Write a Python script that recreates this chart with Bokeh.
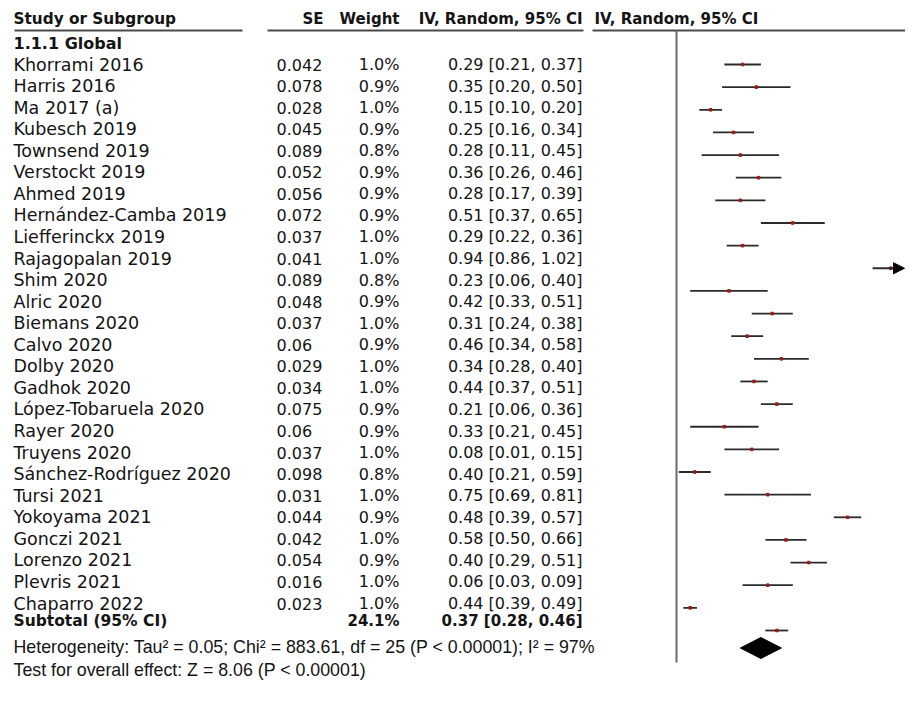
from bokeh.plotting import figure
from bokeh.models import Range1d, ColumnDataSource, Arrow, NormalHead
from bokeh.core.properties import value
from bokeh.embed import file_html
from bokeh.resources import INLINE

# ---------------- data ----------------
studies = ["Khorrami 2016", "Harris 2016", "Ma 2017 (a)", "Kubesch 2019", "Townsend 2019",
           "Verstockt 2019", "Ahmed 2019", "Hernández-Camba 2019", "Liefferinckx 2019",
           "Rajagopalan 2019", "Shim 2020", "Alric 2020", "Biemans 2020", "Calvo 2020",
           "Dolby 2020", "Gadhok 2020", "López-Tobaruela 2020", "Rayer 2020", "Truyens 2020",
           "Sánchez-Rodríguez 2020", "Tursi 2021", "Yokoyama 2021", "Gonczi 2021",
           "Lorenzo 2021", "Plevris 2021", "Chaparro 2022"]
se_labels = ["0.042", "0.078", "0.028", "0.045", "0.089", "0.052", "0.056", "0.072", "0.037",
             "0.041", "0.089", "0.048", "0.037", "0.06", "0.029", "0.034", "0.075", "0.06",
             "0.037", "0.098", "0.031", "0.044", "0.042", "0.054", "0.016", "0.023"]
weight_labels = ["1.0%", "0.9%", "1.0%", "0.9%", "0.8%", "0.9%", "0.9%", "0.9%", "1.0%",
                 "1.0%", "0.8%", "0.9%", "1.0%", "0.9%", "1.0%", "1.0%", "0.9%", "0.9%",
                 "1.0%", "0.8%", "1.0%", "0.9%", "1.0%", "0.9%", "1.0%", "1.0%"]
estimates = [0.29, 0.35, 0.15, 0.25, 0.28, 0.36, 0.28, 0.51, 0.29, 0.94, 0.23, 0.42, 0.31,
             0.46, 0.34, 0.44, 0.21, 0.33, 0.08, 0.40, 0.75, 0.48, 0.58, 0.40, 0.06, 0.44]
lower = [0.21, 0.20, 0.10, 0.16, 0.11, 0.26, 0.17, 0.37, 0.22, 0.86, 0.06, 0.33, 0.24,
         0.34, 0.28, 0.37, 0.06, 0.21, 0.01, 0.21, 0.69, 0.39, 0.50, 0.29, 0.03, 0.39]
upper = [0.37, 0.50, 0.20, 0.34, 0.45, 0.46, 0.39, 0.65, 0.36, 1.02, 0.40, 0.51, 0.38,
         0.58, 0.40, 0.51, 0.36, 0.45, 0.15, 0.59, 0.81, 0.57, 0.66, 0.51, 0.09, 0.49]

header_study = "Study or Subgroup"
header_se = "SE"
header_weight = "Weight"
header_ci = "IV, Random, 95% CI"
subgroup_label = "1.1.1 Global"
subtotal_label = "Subtotal (95% CI)"
subtotal_weight = "24.1%"
subtotal_est, subtotal_lower, subtotal_upper = 0.37, 0.28, 0.46
heterogeneity_text = "Heterogeneity: Tau² = 0.05; Chi² = 883.61, df = 25 (P < 0.00001); I² = 97%"
overall_text = "Test for overall effect: Z = 8.06 (P < 0.00001)"
axis_limit = 1.0

# ---------------- layout ----------------
W, H = 905, 695
T0, T_PITCH = 64.0, 21.56     # table rows: pixel of first study row, row pitch
F0, F_PITCH = 64.0, 22.64     # forest rows


def trow(py):
    return (py - T0) / T_PITCH


def frow(py):
    return (py - F0) / F_PITCH


ZERO_PX = 676.0
LIMIT_PX = 904.0
scale = (LIMIT_PX - ZERO_PX) / axis_limit
f_start = -ZERO_PX / scale
f_end = (W - ZERO_PX) / scale

p = figure(width=W, height=H, output_backend="svg", toolbar_location=None,
           x_range=Range1d(0, W), y_range=Range1d(trow(H), trow(0)),
           x_axis_type=None, y_axis_type=None, min_border=0,
           background_fill_color="white", border_fill_color="white")
p.outline_line_color = None
p.grid.visible = False
p.extra_x_ranges = {"fx": Range1d(f_start, f_end)}
p.extra_y_ranges = {"fy": Range1d(frow(H), frow(0))}

FONT = value("DejaVu Sans")
TXT = "#141414"
n = len(studies)
rows = list(range(n))

X_NAME, X_SE, X_SE_HEAD, X_W, X_CI, X_PH = 13, 276, 323, 399, 582, 594

# header
r_head = trow(18)
bold = dict(text_font=FONT, text_font_style="bold", text_baseline="middle", text_color=TXT)
p.text(x=[X_NAME], y=[r_head], text=[header_study], text_font_size=value("15.3px"),
       text_align="left", **bold)
p.text(x=[X_SE_HEAD, X_W, X_CI], y=[r_head] * 3, text=[header_se, header_weight, header_ci],
       text_font_size=value("15px"), text_align="right", **bold)
p.text(x=[X_PH], y=[r_head], text=[header_ci], text_font_size=value("15px"),
       text_align="left", **bold)

r_line = trow(30)
p.segment(x0=[14, 267, 592], y0=[r_line] * 3, x1=[242, 583, W], y1=[r_line] * 3,
          line_color="#4a4a4a", line_width=2)

# subgroup
p.text(x=[X_NAME], y=[trow(43)], text=[subgroup_label], text_font_size=value("16px"),
       text_align="left", **bold)

# study rows
ci_labels = [f"{e:.2f} [{lo:.2f}, {hi:.2f}]" for e, lo, hi in zip(estimates, lower, upper)]
src = ColumnDataSource(dict(y=rows, name=studies, se=se_labels, w=weight_labels, ci=ci_labels))
common = dict(text_font=FONT, text_baseline="middle", text_color=TXT)
p.text(x=X_NAME, y="y", text="name", source=src, text_align="left",
       text_font_size=value("17.5px"), **common)
p.text(x=X_SE, y="y", text="se", source=src, text_align="left",
       text_font_size=value("16px"), **common)
p.text(x=X_W, y="y", text="w", source=src, text_align="right",
       text_font_size=value("16px"), **common)
p.text(x=X_CI, y="y", text="ci", source=src, text_align="right",
       text_font_size=value("16px"), **common)

# forest: zero line
p.segment(x0=[0], y0=[frow(30)], x1=[0], y1=[frow(662)], x_range_name="fx", y_range_name="fy",
          line_color="#6a6a6a", line_width=2)

# CI lines
inside = [i for i in rows if upper[i] <= axis_limit]
outside = [i for i in rows if upper[i] > axis_limit]
src_in = ColumnDataSource(dict(y=inside, lo=[lower[i] for i in inside],
                               hi=[upper[i] for i in inside]))
p.segment(x0="lo", y0="y", x1="hi", y1="y", source=src_in, x_range_name="fx",
          y_range_name="fy", line_color="#2a2a2a", line_width=1.8)
src_out = ColumnDataSource(dict(y=outside, lo=[lower[i] for i in outside],
                                hi=[axis_limit for i in outside]))
p.add_layout(Arrow(end=NormalHead(size=11, fill_color="black", line_color="black", line_width=1),
                   x_start="lo", y_start="y", x_end="hi", y_end="y", source=src_out,
                   x_range_name="fx", y_range_name="fy", line_color="#2a2a2a", line_width=1.8))

# point estimates
src_pt = ColumnDataSource(dict(y=rows, est=estimates))
p.scatter(x="est", y="y", source=src_pt, x_range_name="fx", y_range_name="fy",
          marker="square", size=2.6, fill_color="#9b1c1c", line_color="#9b1c1c")

# subtotal
r_sub = trow(620)
p.text(x=[X_NAME], y=[r_sub], text=[subtotal_label], text_font_size=value("15.5px"),
       text_align="left", **bold)
p.text(x=[X_W, X_CI], y=[r_sub] * 2,
       text=[subtotal_weight, f"{subtotal_est:.2f} [{subtotal_lower:.2f}, {subtotal_upper:.2f}]"],
       text_font_size=value("15px"), text_align="right", **bold)
fd = frow(647.5)
half = 10.5 / F_PITCH
p.patch(x=[subtotal_lower, subtotal_est, subtotal_upper, subtotal_est],
        y=[fd, fd - half, fd, fd + half],
        x_range_name="fx", y_range_name="fy", fill_color="black", line_color="black")

# footer
p.text(x=[13, 13], y=[trow(646), trow(669)], text=[heterogeneity_text, overall_text],
       text_font=value("Liberation Sans"), text_font_size=value("17.8px"),
       text_baseline="middle", text_align="left", text_color=TXT)

open("out.html", "w").write(file_html(p, INLINE))
